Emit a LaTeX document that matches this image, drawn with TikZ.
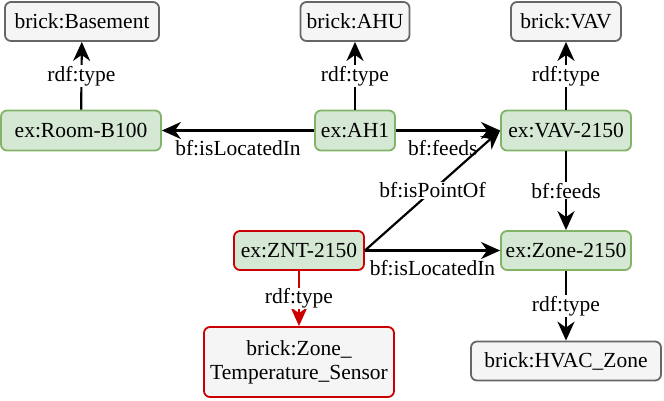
\documentclass[tikz,border=0pt]{standalone}
\usepackage{fontspec}
\setmainfont{Liberation Serif}
\usetikzlibrary{arrows.meta}
\definecolor{greenfill}{HTML}{D5E8D4}
\definecolor{greenline}{HTML}{82B366}
\definecolor{grayfill}{HTML}{F5F5F5}
\definecolor{grayline}{HTML}{666666}
\definecolor{redline}{HTML}{CC0000}
\begin{document}
\begin{tikzpicture}[x=1pt, y=-1pt,
    font=\fontsize{21.5}{24}\selectfont,
    instance/.style={draw=greenline, fill=greenfill, line width=1.8pt, rounded corners=6pt, minimum height=40pt, inner sep=0pt},
    class/.style={draw=grayline, fill=grayfill, line width=1.8pt, rounded corners=6pt, minimum height=39pt, inner sep=0pt},
    rel/.style={line width=2.2pt, -{Stealth[length=19pt, width=17pt, inset=6pt]}},
    lbl/.style={fill=white, inner sep=1pt},
    under/.style={below, inner sep=0pt, yshift=-9pt}]
    \useasboundingbox (0,0) rectangle (664,400);
    % Classes
    \node[class, minimum width=154pt] (basement) at (82,21.5) {brick:Basement};
    \node[class, minimum width=109pt] (ahu) at (355,21.5) {brick:AHU};
    \node[class, minimum width=110pt] (vav) at (566,21.5) {brick:VAV};
    \node[class, minimum width=190pt] (hvac) at (566,361) {brick:HVAC\_Zone};
    \node[class, draw=redline, minimum width=190pt, minimum height=70pt, align=center] (sensor) at (299,362) {brick:Zone\_\\Temperature\_Sensor};
    % Instances
    \node[instance, minimum width=160pt] (room) at (81,130.5) {ex:Room-B100};
    \node[instance, minimum width=80pt] (ah1) at (355,130.5) {ex:AH1};
    \node[instance, minimum width=130pt] (vav2150) at (566,130.5) {ex:VAV-2150};
    \node[instance, minimum width=130pt, minimum height=39pt] (zone) at (566,250.5) {ex:Zone-2150};
    \node[instance, draw=redline, minimum width=130pt, minimum height=39pt] (znt) at (299,250.5) {ex:ZNT-2150};
    % rdf:type edges
    \draw[rel] (room) -- node[lbl] {rdf:type} (basement);
    \draw[rel] (ah1) -- node[lbl] {rdf:type} (ahu);
    \draw[rel] (vav2150) -- node[lbl] {rdf:type} (vav);
    \draw[rel] (zone) -- node[lbl] {rdf:type} (hvac);
    \draw[rel, redline] (znt) -- node[lbl, text=black] {rdf:type} (sensor);
    % Brick relations
    \draw[rel] (ah1) -- node[under] {bf:isLocatedIn} (room);
    \draw[rel] (ah1) -- node[under, pos=0.45] {bf:feeds} (vav2150);
    \draw[rel] (vav2150) -- node[lbl] {bf:feeds} (zone);
    \draw[rel] (znt.east) -- node[lbl] {bf:isPointOf} (vav2150.west);
    \draw[rel] (znt) -- node[under] {bf:isLocatedIn} (zone);
\end{tikzpicture}
\end{document}
